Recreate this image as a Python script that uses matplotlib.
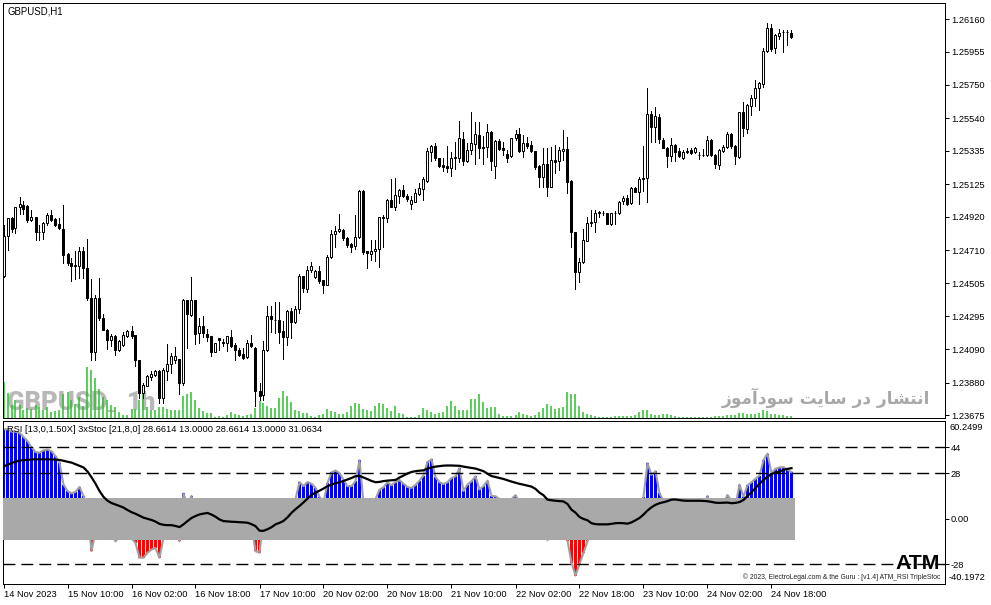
import numpy as np
import matplotlib
matplotlib.use("Agg")
import matplotlib.pyplot as plt

plt.rcParams['font.family'] = ['Liberation Sans', 'DejaVu Sans']

# ---------------- data (prices in points = price * 1e5) ----------------
opens = [124551, 124797, 124912, 124850, 124981, 124996, 124989, 124902, 124919, 124828,
         124828, 124881, 124933, 124906, 124877, 124843, 124688, 124630, 124613, 124609,
         124707, 124599, 124411, 124070, 124411, 124285, 124212, 124145, 124170, 124082,
         124118, 124170, 124201, 124176, 124024, 123815, 123861, 123915, 123930, 123955,
         123784, 123950, 123999, 124024, 124028, 123878, 124400, 124306, 124396, 124191,
         124237, 124187, 124170, 124070, 124160, 124137, 124129, 124166, 124118, 124087,
         124061, 124038, 124129, 124097, 123829, 123800, 124082, 124300, 124275, 124275,
         124201, 124166, 124331, 124258, 124342, 124551, 124467, 124584, 124542, 124582,
         124521, 124490, 124668, 124814, 124833, 124839, 124787, 124751, 124739, 124793,
         125085, 124703, 124688, 124703, 124718, 124919, 124912, 125027, 124985, 125048,
         125090, 125054, 125000, 125016, 125066, 125096, 125146, 125330, 125366, 125288,
         125246, 125242, 125226, 125288, 125292, 125409, 125273, 125341, 125376, 125435,
         125361, 125357, 125455, 125242, 125397, 125355, 125314, 125305, 125414, 125439,
         125334, 125383, 125372, 125334, 125242, 125173, 125251, 125110, 125278, 125272,
         125334, 125347, 125146, 124828, 124574, 124636, 124770, 124881, 124891, 124944,
         124944, 124944, 124875, 124944, 124944, 125021, 125038, 125006, 125100, 125075,
         125163, 125163, 125564, 125487, 125549, 125403, 125355, 125305, 125372, 125334,
         125292, 125334, 125341, 125326, 125309, 125309, 125309, 125403, 125309, 125246,
         125334, 125361, 125439, 125367, 125298, 125577, 125472, 125618, 125665, 125727,
         125752, 125961, 126107, 125978, 126057, 126078, 126078, 126072]
highs = [124870, 124914, 124922, 124985, 125044, 125021, 124996, 124964, 124920, 124870,
         124891, 124944, 124964, 124912, 124912, 124996, 124695, 124661, 124703, 124730,
         124730, 124781, 124530, 124431, 124536, 124312, 124216, 124187, 124181, 124145,
         124195, 124212, 124233, 124181, 124024, 123878, 123930, 123950, 123961, 123961,
         123972, 124124, 124066, 124103, 124030, 124404, 124400, 124542, 124400, 124285,
         124300, 124216, 124170, 124129, 124160, 124154, 124174, 124212, 124129, 124097,
         124097, 124145, 124181, 124103, 123878, 124139, 124362, 124358, 124383, 124383,
         124264, 124337, 124348, 124358, 124563, 124551, 124609, 124640, 124588, 124609,
         124525, 124682, 124839, 124860, 124937, 124843, 124793, 124759, 124933, 125090,
         125090, 124703, 124772, 124772, 124922, 124933, 125031, 125157, 125163, 125096,
         125121, 125063, 125048, 125096, 125132, 125173, 125351, 125372, 125383, 125292,
         125288, 125367, 125330, 125393, 125522, 125451, 125383, 125581, 125518, 125518,
         125430, 125502, 125460, 125403, 125409, 125393, 125341, 125418, 125466, 125477,
         125435, 125424, 125397, 125334, 125246, 125355, 125355, 125361, 125372, 125361,
         125466, 125424, 125152, 124828, 124661, 124845, 124922, 124964, 124964, 124954,
         124958, 124944, 124945, 124954, 125021, 125048, 125058, 125110, 125110, 125173,
         125367, 125731, 125585, 125612, 125564, 125418, 125361, 125418, 125376, 125351,
         125341, 125355, 125355, 125361, 125326, 125347, 125430, 125409, 125314, 125347,
         125372, 125451, 125445, 125372, 125581, 125640, 125627, 125685, 125779, 125769,
         125978, 126135, 126129, 126066, 126099, 126093, 126093, 126093]
lows = [124544, 124714, 124828, 124818, 124939, 124939, 124891, 124897, 124776, 124776,
        124781, 124870, 124897, 124864, 124843, 124630, 124620, 124519, 124530, 124536,
        124536, 124400, 124024, 124019, 124275, 124208, 124091, 124107, 124051, 124076,
        124112, 124166, 124160, 123982, 123784, 123784, 123856, 123898, 123919, 123752,
        123752, 123898, 123940, 124003, 123811, 123867, 124097, 124295, 124124, 124129,
        124166, 124139, 124045, 124070, 124082, 124112, 124076, 124103, 124019, 124045,
        124028, 124034, 124103, 123731, 123773, 123769, 124076, 124195, 124191, 124129,
        124030, 124118, 124160, 124254, 124317, 124446, 124446, 124577, 124536, 124505,
        124442, 124490, 124661, 124730, 124828, 124776, 124734, 124697, 124718, 124787,
        124690, 124599, 124651, 124646, 124605, 124730, 124885, 124980, 124964, 125006,
        125045, 125021, 124971, 125013, 125058, 125027, 125138, 125272, 125278, 125234,
        125209, 125201, 125179, 125221, 125267, 125246, 125267, 125314, 125251, 125288,
        125251, 125298, 125215, 125163, 125341, 125309, 125267, 125298, 125403, 125326,
        125298, 125351, 125326, 125221, 125110, 125110, 125048, 125110, 125194, 125215,
        125278, 125069, 124734, 124469, 124511, 124630, 124766, 124860, 124825, 124922,
        124929, 124875, 124872, 124875, 124937, 125000, 124996, 125000, 125075, 125000,
        125083, 125016, 125393, 125393, 125383, 125351, 125236, 125272, 125272, 125298,
        125284, 125320, 125314, 125320, 125284, 125305, 125305, 125305, 125226, 125221,
        125330, 125355, 125355, 125251, 125292, 125430, 125445, 125560, 125618, 125591,
        125737, 125953, 125961, 125947, 126036, 125957, 125999, 126045]
closes = [124797, 124912, 124843, 124981, 125000, 124969, 124902, 124919, 124824, 124824,
          124881, 124933, 124902, 124870, 124850, 124682, 124630, 124613, 124615, 124707,
          124599, 124411, 124070, 124411, 124285, 124212, 124145, 124174, 124082, 124139,
          124181, 124201, 124170, 124019, 123815, 123867, 123924, 123936, 123955, 123784,
          123961, 123999, 124049, 124045, 123878, 124400, 124312, 124396, 124187, 124237,
          124191, 124166, 124070, 124129, 124149, 124129, 124170, 124112, 124082, 124055,
          124034, 124129, 124107, 123825, 123798, 124087, 124300, 124279, 124273, 124195,
          124166, 124331, 124258, 124344, 124551, 124471, 124588, 124613, 124582, 124515,
          124490, 124668, 124814, 124833, 124845, 124787, 124745, 124734, 124793, 125085,
          124697, 124693, 124709, 124720, 124919, 124910, 125027, 124985, 125055, 125090,
          125048, 125033, 125027, 125069, 125100, 125159, 125334, 125366, 125288, 125242,
          125236, 125226, 125288, 125298, 125414, 125273, 125341, 125383, 125439, 125355,
          125351, 125451, 125272, 125397, 125347, 125342, 125292, 125414, 125439, 125334,
          125383, 125367, 125334, 125236, 125173, 125251, 125110, 125278, 125267, 125341,
          125347, 125138, 124828, 124574, 124636, 124776, 124881, 124891, 124944, 124950,
          124946, 124875, 124944, 124946, 125016, 125038, 125000, 125100, 125079, 125159,
          125157, 125564, 125487, 125556, 125409, 125355, 125305, 125372, 125330, 125305,
          125326, 125326, 125320, 125355, 125311, 125311, 125403, 125309, 125251, 125341,
          125361, 125439, 125367, 125305, 125577, 125480, 125623, 125665, 125727, 125759,
          125961, 126107, 125974, 126062, 126072, 126080, 126080, 126051]
volumes = [3600, 2500, 1270, 1770, 1270, 770, 1000, 930, 1330, 1100,
           770, 1100, 600, 670, 770, 2430, 2600, 1770, 1430, 2100,
           1170, 5100, 4770, 4030, 2940, 2100, 1770, 1330, 1070, 600,
           330, 330, 930, 930, 1770, 2770, 1100, 770, 770, 1100,
           1100, 930, 830, 830, 830, 2170, 2430, 2600, 1800, 1000,
           670, 500, 500, 100, 170, 50, 330, 570, 430, 330,
           230, 330, 430, 1000, 1670, 1500, 1230, 1000, 1000, 2000,
           2730, 2230, 1600, 830, 730, 500, 500, 230, 50, 330,
           430, 900, 730, 570, 430, 430, 570, 1170, 1500, 1430,
           900, 830, 730, 1170, 1500, 1430, 1000, 730, 1230, 500,
           430, 100, 50, 100, 330, 1000, 830, 600, 430, 500,
           600, 1170, 1730, 1230, 830, 770, 830, 1930, 1930, 2430,
           1600, 1000, 1070, 1100, 430, 170, 170, 170, 330, 600,
           430, 330, 230, 330, 600, 1000, 1430, 1230, 930, 1000,
           1100, 2600, 2430, 2430, 1230, 600, 430, 330, 230, 100,
           100, 100, 100, 170, 230, 230, 170, 230, 330, 570,
           830, 830, 430, 330, 330, 430, 430, 330, 170, 100,
           100, 50, 50, 50, 50, 100, 100, 100, 170, 170,
           170, 270, 270, 330, 530, 500, 430, 430, 430, 500,
           770, 700, 430, 370, 270, 270, 170, 170]
fast_values = [55.0, 55.0, 53.5, 53.5, 52.8, 50.3, 47.7, 44.0, 41.0, 40.6,
               42.0, 42.5, 41.5, 38.5, 34.5, 21.0, 17.0, 15.5, 16.5, 19.5,
               14.0, 5.0, -20.0, -8.0, -3.0, 0.0, -5.0, -9.0, -14.0, -11.0,
               -9.0, -8.0, -12.0, -15.0, -24.0, -24.0, -21.0, -19.0, -18.0, -24.0,
               -12.0, -8.0, -5.0, -6.0, -14.0, 15.5, 8.0, 14.0, 2.0, 5.0,
               3.0, 1.0, -4.0, 0.0, 2.0, 1.0, 3.0, -1.0, -4.0, -6.0,
               -8.0, -2.0, -4.0, -20.0, -21.0, 0.0, 8.0, 7.0, 7.0, 3.0,
               2.0, 10.0, 8.0, 12.0, 22.5, 20.0, 22.5, 21.5, 19.0, 13.5,
               10.0, 22.0, 28.5, 29.6, 28.0, 24.0, 20.0, 20.0, 23.0, 36.0,
               10.0, 8.0, 9.0, 12.0, 17.8, 19.3, 22.4, 20.5, 22.5, 23.8,
               21.5, 19.5, 18.9, 20.7, 23.4, 26.5, 34.8, 36.5, 25.5, 22.4,
               21.3, 22.4, 25.0, 26.0, 31.0, 17.0, 21.0, 23.0, 26.0, 18.0,
               20.0, 23.4, 14.0, 13.8, 12.0, 11.0, 9.0, 12.0, 14.5, 10.0,
               11.0, 10.0, 9.0, 5.0, 0.0, 3.0, -13.3, 2.0, 1.0, 4.0,
               5.0, -13.5, -27.0, -35.0, -28.0, -21.0, -14.0, -9.0, -6.0, -5.0,
               -5.0, -8.0, -4.0, -4.0, 0.0, 2.0, 0.0, 4.0, 3.0, 7.0,
               13.5, 34.2, 27.0, 29.2, 15.6, 11.0, 6.0, 9.0, 7.0, 5.0,
               6.0, 6.0, 5.0, 8.0, 6.0, 6.0, 14.0, 7.0, 3.0, 8.0,
               9.0, 14.5, 11.0, 8.0, 21.0, 13.5, 20.5, 22.4, 24.5, 26.5,
               36.0, 40.0, 28.0, 30.7, 31.5, 31.7, 30.1, 28.66]
signal_values = [32.1, 33.2, 34.2, 35.0, 35.7, 36.0, 36.2, 36.4, 36.5, 36.5,
                 36.5, 36.5, 36.4, 36.3, 36.1, 35.6, 35.0, 34.5, 33.5, 32.5,
                 31.5, 29.0, 25.5, 21.5, 17.0, 13.4, 11.0, 9.6, 8.7, 7.8,
                 6.8, 5.3, 4.0, 3.0, 1.8, 0.6, -0.1, -0.8, -1.8, -3.2,
                 -3.8, -4.0, -4.0, -4.5, -5.2, -3.5, -1.5, 0.4, 1.6, 2.6,
                 3.1, 3.5, 2.5, 1.2, -0.5, -1.5, -1.7, -1.9, -2.0, -2.2,
                 -2.3, -2.5, -3.4, -4.6, -7.4, -7.5, -6.5, -5.3, -3.5, -2.6,
                 -1.4, 0.8, 3.6, 5.8, 7.8, 10.0, 12.3, 14.6, 16.0, 17.2,
                 18.5, 20.0, 21.0, 21.8, 22.4, 23.2, 24.1, 25.0, 26.1, 26.3,
                 25.3, 24.3, 23.2, 22.4, 22.6, 23.1, 23.4, 23.6, 23.8, 25.3,
                 26.5, 27.8, 28.7, 29.2, 29.5, 29.7, 30.8, 31.5, 32.0, 32.3,
                 32.6, 32.7, 32.7, 32.6, 32.5, 32.0, 31.6, 31.2, 30.8, 30.0,
                 29.2, 27.6, 26.2, 25.6, 25.0, 24.4, 23.6, 22.8, 22.1, 21.4,
                 20.9, 20.3, 19.7, 18.3, 16.0, 14.4, 11.7, 11.3, 11.0, 10.8,
                 10.6, 9.0, 5.5, 3.7, 1.0, -0.2, -1.0, -2.8, -3.4, -3.5,
                 -3.5, -3.5, -3.2, -2.8, -2.7, -2.8, -3.1, -2.3, -1.0, 0.4,
                 2.5, 5.0, 7.0, 8.5, 9.5, 10.1, 10.8, 11.7, 11.8, 11.4,
                 11.1, 11.0, 11.0, 11.0, 11.0, 10.9, 10.7, 10.3, 9.8, 9.7,
                 9.8, 9.9, 9.5, 9.7, 10.2, 11.5, 14.0, 16.3, 18.8, 21.5,
                 23.8, 25.8, 27.5, 28.3, 29.0, 30.0, 30.6, 31.06]
time_labels = ["14 Nov 2023", "15 Nov 10:00", "16 Nov 02:00", "16 Nov 18:00",
               "17 Nov 10:00", "20 Nov 02:00", "20 Nov 18:00", "21 Nov 10:00",
               "22 Nov 02:00", "22 Nov 18:00", "23 Nov 10:00", "24 Nov 02:00",
               "24 Nov 18:00"]
label_every = 16
price_ticks = [1.26160, 1.25955, 1.25750, 1.25540, 1.25335, 1.25125, 1.24920,
               1.24710, 1.24505, 1.24295, 1.24090, 1.23880, 1.23675]
price_range = (1.23658, 1.26264)
ind_range = (-40.1972, 60.2499)
level_lines = [44, 28, -28]
ind_ticks = [44, 28, 0, -28]
ind_tick_labels = ["44", "28", "0.00", "-28"]
band_level = 13.0
vol_scale_max = 41500
symbol_title = "GBPUSD,H1"
ind_title = "RSI [13,0,1.50X] 3xStoc [21,8,0] 28.6614 13.0000 28.6614 13.0000 31.0634"
copyright_text = "\u00a9 2023, ElectroLegal.com & the Guru : [v1.4] ATM_RSI TripleStoc"
persian_text = "انتشار در سایت سودآموز"

# ------------- simple Arabic-script shaping for display -------------
FORMS = {
    '\u0627': ('\uFE8D', '\uFE8E', None, None),
    '\u0622': ('\uFE81', '\uFE82', None, None),
    '\u0646': ('\uFEE5', '\uFEE6', '\uFEE7', '\uFEE8'),
    '\u062A': ('\uFE95', '\uFE96', '\uFE97', '\uFE98'),
    '\u0634': ('\uFEB5', '\uFEB6', '\uFEB7', '\uFEB8'),
    '\u0631': ('\uFEAD', '\uFEAE', None, None),
    '\u062F': ('\uFEA9', '\uFEAA', None, None),
    '\u0633': ('\uFEB1', '\uFEB2', '\uFEB3', '\uFEB4'),
    '\u06CC': ('\uFBFC', '\uFBFD', '\uFBFE', '\uFBFF'),
    '\u064A': ('\uFEF1', '\uFEF2', '\uFEF3', '\uFEF4'),
    '\u0648': ('\uFEED', '\uFEEE', None, None),
    '\u0645': ('\uFEE1', '\uFEE2', '\uFEE3', '\uFEE4'),
    '\u0632': ('\uFEAF', '\uFEB0', None, None),
}


def shape_rtl(s):
    out = []
    for k, ch in enumerate(s):
        if ch not in FORMS:
            out.append(ch)
            continue
        prev = s[k - 1] if k > 0 else ''
        nxt = s[k + 1] if k + 1 < len(s) else ''
        jp = prev in FORMS and FORMS[prev][2] is not None
        jn = FORMS[ch][2] is not None and nxt in FORMS
        iso, fin, ini, med = FORMS[ch]
        if jp and jn:
            out.append(med)
        elif jp:
            out.append(fin)
        elif jn:
            out.append(ini)
        else:
            out.append(iso)
    return ''.join(reversed(out))


# ---------------- figure ----------------
W, H = 991, 605
fig = plt.figure(figsize=(W / 100, H / 100), dpi=100)
fig.patch.set_facecolor('white')


def rect(l, t, r, b):
    return [l / W, 1 - b / H, (r - l) / W, (b - t) / H]


def fx(px):
    return px / W


def fy(py):
    return 1 - py / H


ax = fig.add_axes(rect(2.5, 2.7, 945, 418))
axv = ax.twinx()                      # volume axis, drawn behind the candles
ax.set_zorder(axv.get_zorder() + 1)
ax.patch.set_visible(False)
axi = fig.add_axes(rect(2.5, 420.7, 945, 584))
XLIM = (-0.25, 235.375)

n = len(opens)
x = np.arange(n)
o = np.array(opens) / 1e5
hi = np.array(highs) / 1e5
lo = np.array(lows) / 1e5
c = np.array(closes) / 1e5
hi = np.maximum(hi, np.maximum(o, c))
lo = np.minimum(lo, np.minimum(o, c))
up = c >= o

LW = 0.72
green = '#2cbf2c'

# watermarks (behind everything in the price panel)
wm_col = '#b8b8b8'
wm_font = ['Roboto', 'Liberation Sans', 'DejaVu Sans']
axv.text(fx(7), fy(410), "GBPUSD", transform=fig.transFigure, fontsize=18.5,
         fontweight='black', family=wm_font, color=wm_col, ha='left', va='baseline', zorder=0.5)
axv.text(fx(108), fy(410), "_", transform=fig.transFigure, fontsize=12,
         fontweight='bold', family=wm_font, color=wm_col, ha='left', va='baseline', zorder=0.5)
axv.text(fx(127), fy(410), "1h", transform=fig.transFigure, fontsize=18.5,
         fontweight='black', family=wm_font, color=wm_col, ha='left', va='baseline', zorder=0.5)
axv.text(fx(930), fy(398), shape_rtl(persian_text), transform=fig.transFigure, fontsize=12.2,
         fontweight='bold', family=['DejaVu Sans'], color='#a8a8a8', ha='right', va='center',
         zorder=0.5)

# volumes
axv.vlines(x, 0, volumes, color=green, lw=1.1, zorder=1)
axv.set_ylim(0, vol_scale_max)
axv.set_yticks([])
axv.tick_params(right=False, labelright=False)
for sp in axv.spines.values():
    sp.set_visible(False)

# candles
ax.vlines(x, lo, hi, color='black', lw=LW, zorder=3, antialiased=False)
ax.bar(x, np.abs(c - o), bottom=np.minimum(o, c), width=0.5,
       color=np.where(up, 'white', 'black'), edgecolor='black', linewidth=LW, zorder=4)

ax.set_xlim(*XLIM)
ax.set_ylim(*price_range)
ax.set_xticks([])
ax.yaxis.tick_right()
ax.set_yticks(price_ticks)
ax.set_yticklabels([f"{p:.5f}" for p in price_ticks])
ax.tick_params(axis='y', direction='out', length=2.6, width=LW, pad=1.6,
               labelsize=6.7, colors='black', left=False, labelleft=False)
for sp in ax.spines.values():
    sp.set_linewidth(LW)
    sp.set_color('black')

fig.text(fx(7), fy(11.5), symbol_title, fontsize=6.9, color='black', ha='left', va='center')

# ---------------- indicator ----------------
fv = np.array(fast_values)
sv = np.array(signal_values)
pos = fv > 0
axi.bar(x[pos], fv[pos], width=0.75, color='#0000ff', linewidth=0, zorder=1,
        antialiased=False)
axi.bar(x[~pos], fv[~pos], width=0.75, color='#ff0000', linewidth=0, zorder=1,
        antialiased=False)
axi.plot(x, fv, color='#a0a0a0', lw=1.5, zorder=2, solid_joinstyle='round')
axi.fill_between([x[0] - 0.5, x[-1] + 1.0], -band_level, band_level,
                 color='#a9a9a9', linewidth=0, zorder=3)
for lev in level_lines:
    axi.axhline(lev, color='black', lw=1.0, dashes=(8.6, 4.3), zorder=4)
axi.plot(x, sv, color='black', lw=1.6, zorder=5, solid_joinstyle='round')

axi.set_xlim(*XLIM)
axi.set_ylim(*ind_range)
axi.yaxis.tick_right()
axi.set_yticks(ind_ticks)
axi.set_yticklabels(ind_tick_labels)
axi.tick_params(axis='y', direction='out', length=2.6, width=LW, pad=1.6,
                labelsize=6.7, colors='black')
tick_pos = x[::label_every][:len(time_labels)]
axi.set_xticks(tick_pos)
axi.set_xticklabels(time_labels, ha='left')
axi.tick_params(axis='x', direction='out', length=2.6, width=LW, pad=1.8,
                labelsize=6.7, colors='black')
for sp in axi.spines.values():
    sp.set_linewidth(LW)
    sp.set_color('black')

fig.text(fx(949), fy(428), f"{ind_range[1]:.4f}", fontsize=6.7, ha='left', va='center')
fig.text(fx(949), fy(577.7), f"{ind_range[0]:.4f}", fontsize=6.7, ha='left', va='center')
fig.text(fx(7), fy(429), ind_title, fontsize=6.7, ha='left', va='center')
fig.text(fx(940), fy(569), "ATM", fontsize=15.3, fontweight='bold', ha='right',
         va='baseline', color='black')
fig.text(fx(940), fy(577), copyright_text, fontsize=4.9, ha='right', va='center',
         color='#202020')

fig.savefig("out.png", dpi=100, facecolor='white')
